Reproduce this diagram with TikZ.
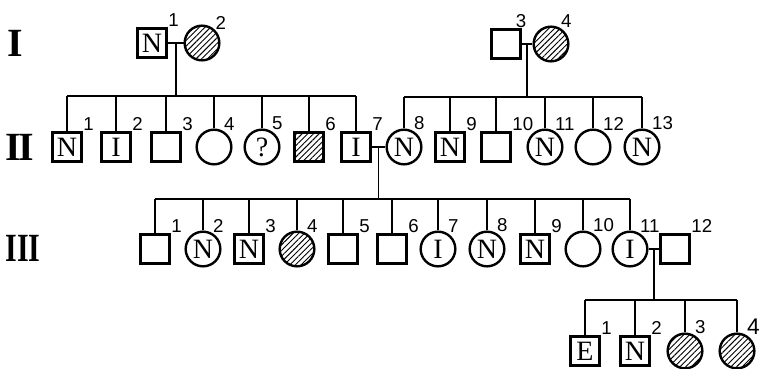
\documentclass[tikz,border=0pt]{standalone}
\usepackage{fontspec}
\setmainfont{Liberation Serif}
\newfontfamily\numfamily{Liberation Sans}
\usepackage{tikz}
\usetikzlibrary{patterns.meta}

\newcommand\symfont{\fontsize{21}{21}\selectfont}
\newcommand\numfont{\numfamily\fontsize{14}{14}\selectfont}
\newcommand\genfont{\bfseries\fontsize{30}{30}\selectfont}

\begin{document}
\begin{tikzpicture}[x=0.75pt,y=-0.75pt,
  male/.style={draw,rectangle,line width=1.8pt,minimum size=21.5pt,inner sep=0pt,font=\symfont},
  female/.style={draw,circle,line width=1.8pt,minimum size=26pt,inner sep=0pt,font=\symfont},
  hatch/.style={pattern={Lines[angle=45,distance=3pt,line width=0.7pt]}},
  num/.style={font=\numfont,inner sep=0.5pt},
  gen/.style={font=\genfont,inner sep=0pt},
  link/.style={line width=1.3pt}]
  \useasboundingbox (0,0) rectangle (763,368);

  % generation numerals
  \node[gen] (gI) at (15,43) {I};
  \node[gen] (gII) at (20,147) {I\kern-2pt I};
  \node[gen] (gIII) at (23,248) {\scalebox{0.75}[1]{III}};

  % generation I
  \node[male,label={[num]45:1}] (I1) at (152,43) {N};
  \node[female,hatch,label={[num]45:2}] (I2) at (202,43) {};
  \node[male,label={[num]60:3}] (I3) at (506,44) {};
  \node[female,hatch,label={[num]60:4}] (I4) at (551,44) {};

  % generation II
  \node[male,label={[num]45:1}] (II1) at (67,147) {N};
  \node[male,label={[num]45:2}] (II2) at (116,147) {I};
  \node[male,label={[num]45:3}] (II3) at (166,147) {};
  \node[female,label={[num]60:4}] (II4) at (214,147) {};
  \node[female,label={[num]60:5}] (II5) at (262,147) {?};
  \node[male,hatch,label={[num]45:6}] (II6) at (309,147) {};
  \node[male,label={[num]45:7}] (II7) at (356,147) {I};
  \node[female,label={[num]60:8}] (II8) at (404,147) {N};
  \node[male,label={[num]45:9}] (II9) at (450,147) {N};
  \node[male,label={[num]45:10}] (II10) at (496,147) {};
  \node[female,label={[num]60:11}] (II11) at (545,147) {N};
  \node[female,label={[num]60:12}] (II12) at (593,147) {};
  \node[female,label={[num]60:13}] (II13) at (642,147) {N};

  % generation III
  \node[male,label={[num]45:1}] (III1) at (155,249) {};
  \node[female,label={[num]60:2}] (III2) at (203,249) {N};
  \node[male,label={[num]45:3}] (III3) at (249,249) {N};
  \node[female,hatch,label={[num]60:4}] (III4) at (297,249) {};
  \node[male,label={[num]45:5}] (III5) at (343,249) {};
  \node[male,label={[num]45:6}] (III6) at (392,249) {};
  \node[female,label={[num]60:7}] (III7) at (438,249) {I};
  \node[female,label={[num]60:8}] (III8) at (487,249) {N};
  \node[male,label={[num]45:9}] (III9) at (535,249) {N};
  \node[female,label={[num]60:10}] (III10) at (583,249) {};
  \node[female,label={[num]60:11}] (III11) at (630,249) {I};
  \node[male,label={[num]45:12}] (III12) at (675,249) {};

  % generation IV
  \node[male,label={[num]45:1}] (IV1) at (585,351) {E};
  \node[male,label={[num]45:2}] (IV2) at (635,351) {N};
  \node[female,hatch,label={[num]60:3}] (IV3) at (685,351) {};
  \node[female,hatch,label={[num,font=\numfamily\fontsize{17}{17}\selectfont]60:4}] (IV4) at (737,351) {};

  % sibship levels
  \coordinate (b1) at (0,96);
  \coordinate (b2) at (0,97);
  \coordinate (b3) at (0,199);
  \coordinate (b4) at (0,300);

  % matings and descent
  \draw[link] (I1) -- (I2) coordinate[pos=.5] (m1);
  \draw[link] (m1) -- (m1 |- b1);
  \draw[link] (II1 |- b1) -- (II7 |- b1);
  \foreach \k in {1,...,7} \draw[link] (II\k) -- (II\k |- b1);

  \draw[link] (I3) -- (I4) coordinate[pos=.5] (m2);
  \draw[link] (m2) -- (m2 |- b2);
  \draw[link] (II8 |- b2) -- (II13 |- b2);
  \foreach \k in {8,...,13} \draw[link] (II\k) -- (II\k |- b2);

  \draw[link] (II7) -- (II8) coordinate[pos=.5] (m3);
  \draw[link] (m3) -- (m3 |- b3);
  \draw[link] (III1 |- b3) -- (III11 |- b3);
  \foreach \k in {1,...,11} \draw[link] (III\k) -- (III\k |- b3);

  \draw[link] (III11) -- (III12) coordinate[pos=.5] (m4);
  \draw[link] (m4) -- (m4 |- b4);
  \draw[link] (IV1 |- b4) -- (IV4 |- b4);
  \foreach \k in {1,...,4} \draw[link] (IV\k) -- (IV\k |- b4);
\end{tikzpicture}
\end{document}
